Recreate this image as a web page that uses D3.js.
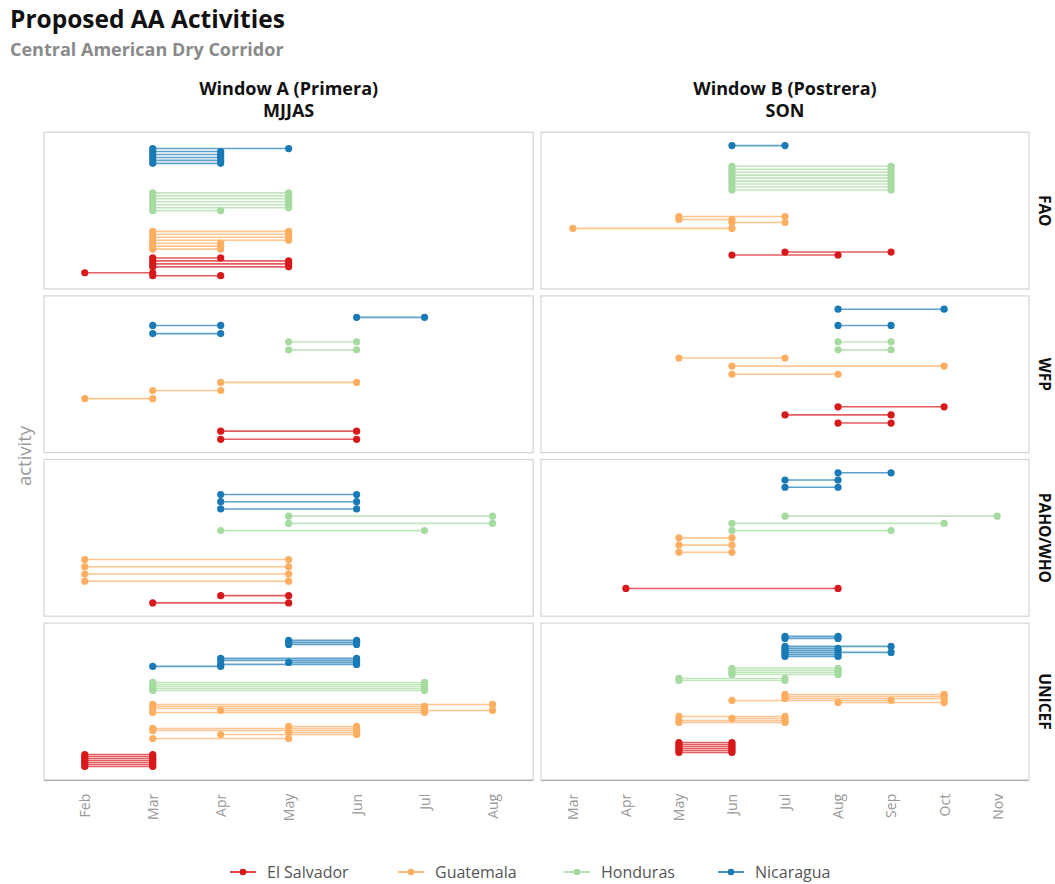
<!DOCTYPE html>
<html><head><meta charset="utf-8">
<script src="https://cdn.jsdelivr.net/npm/d3@7"></script>
<style>body{margin:0;background:#fff} text{font-family:"Open Sans", Lato, sans-serif}</style>
</head><body><svg id="chart" width="1055" height="884"></svg>
<script>
// ---------------- data ----------------
const countries = ["El Salvador", "Guatemala", "Honduras", "Nicaragua"];
const countryColors = ["#d7191c", "#fdae61", "#a6dba0", "#1a7ab5"];
const agencies = ["FAO", "WFP", "PAHO/WHO", "UNICEF"];
const windowTitles = [["Window A (Primera)", "MJJAS"], ["Window B (Postrera)", "SON"]];
const monthsA = ["Feb", "Mar", "Apr", "May", "Jun", "Jul", "Aug"];
const monthsB = ["Mar", "Apr", "May", "Jun", "Jul", "Aug", "Sep", "Oct", "Nov"];
const activitySlots = [45, 17, 19, 66];   // number of activity levels per agency

// [window, country, activity slot, start month, end month]
const faoRows = [
  ["B","Nicaragua",0,"Jun","Jul"],
  ["A","Nicaragua",1,"Mar","May"],["A","Nicaragua",2,"Mar","Apr"],["A","Nicaragua",3,"Mar","Apr"],
  ["A","Nicaragua",4,"Mar","Apr"],["A","Nicaragua",5,"Mar","Apr"],["A","Nicaragua",6,"Mar","Apr"],
  ["B","Honduras",7,"Jun","Sep"],["B","Honduras",8,"Jun","Sep"],["B","Honduras",9,"Jun","Sep"],
  ["B","Honduras",10,"Jun","Sep"],["B","Honduras",11,"Jun","Sep"],["B","Honduras",12,"Jun","Sep"],
  ["B","Honduras",13,"Jun","Sep"],["B","Honduras",14,"Jun","Sep"],["B","Honduras",15,"Jun","Sep"],
  ["A","Honduras",16,"Mar","May"],["A","Honduras",17,"Mar","May"],["A","Honduras",18,"Mar","May"],
  ["A","Honduras",19,"Mar","May"],["A","Honduras",20,"Mar","May"],["A","Honduras",21,"Mar","May"],
  ["A","Honduras",22,"Mar","Apr"],
  ["B","Guatemala",24,"May","Jul"],["B","Guatemala",25,"May","Jun"],["B","Guatemala",26,"Jun","Jul"],
  ["B","Guatemala",28,"Mar","Jun"],
  ["A","Guatemala",29,"Mar","May"],["A","Guatemala",30,"Mar","May"],["A","Guatemala",31,"Mar","May"],
  ["A","Guatemala",32,"Mar","May"],["A","Guatemala",33,"Mar","Apr"],["A","Guatemala",34,"Mar","Apr"],
  ["A","Guatemala",35,"Mar","Apr"],
  ["B","El Salvador",36,"Jul","Sep"],["B","El Salvador",37,"Jun","Aug"],
  ["A","El Salvador",38,"Mar","Apr"],["A","El Salvador",39,"Mar","May"],["A","El Salvador",40,"Mar","May"],
  ["A","El Salvador",41,"Mar","May"],["A","El Salvador",43,"Feb","Mar"],["A","El Salvador",44,"Mar","Apr"]
];
const wfpRows = [
  ["B","Nicaragua",0,"Aug","Oct"],["A","Nicaragua",1,"Jun","Jul"],["B","Nicaragua",2,"Aug","Sep"],
  ["A","Nicaragua",2,"Mar","Apr"],["A","Nicaragua",3,"Mar","Apr"],
  ["A","Honduras",4,"May","Jun"],["A","Honduras",5,"May","Jun"],
  ["B","Honduras",4,"Aug","Sep"],["B","Honduras",5,"Aug","Sep"],
  ["B","Guatemala",6,"May","Jul"],["B","Guatemala",7,"Jun","Oct"],["B","Guatemala",8,"Jun","Aug"],
  ["A","Guatemala",9,"Apr","Jun"],["A","Guatemala",10,"Mar","Apr"],["A","Guatemala",11,"Feb","Mar"],
  ["B","El Salvador",12,"Aug","Oct"],["B","El Salvador",13,"Jul","Sep"],["B","El Salvador",14,"Aug","Sep"],
  ["A","El Salvador",15,"Apr","Jun"],["A","El Salvador",16,"Apr","Jun"]
];
const pahoRows = [
  ["B","Nicaragua",0,"Aug","Sep"],["B","Nicaragua",1,"Jul","Aug"],["B","Nicaragua",2,"Jul","Aug"],
  ["A","Nicaragua",3,"Apr","Jun"],["A","Nicaragua",4,"Apr","Jun"],["A","Nicaragua",5,"Apr","Jun"],
  ["B","Honduras",6,"Jul","Nov"],["B","Honduras",7,"Jun","Oct"],["B","Honduras",8,"Jun","Sep"],
  ["A","Honduras",6,"May","Aug"],["A","Honduras",7,"May","Aug"],["A","Honduras",8,"Apr","Jul"],
  ["B","Guatemala",9,"May","Jun"],["B","Guatemala",10,"May","Jun"],["B","Guatemala",11,"May","Jun"],
  ["A","Guatemala",12,"Feb","May"],["A","Guatemala",13,"Feb","May"],["A","Guatemala",14,"Feb","May"],
  ["A","Guatemala",15,"Feb","May"],
  ["B","El Salvador",16,"Apr","Aug"],["A","El Salvador",17,"Apr","May"],["A","El Salvador",18,"Mar","May"]
];
const unicefRows = [
  ["B","Nicaragua",0,"Jul","Aug"],["B","Nicaragua",1,"Jul","Aug"],
  ["A","Nicaragua",2,"May","Jun"],["A","Nicaragua",3,"May","Jun"],["A","Nicaragua",4,"May","Jun"],
  ["B","Nicaragua",5,"Jul","Sep"],["B","Nicaragua",6,"Jul","Aug"],["B","Nicaragua",7,"Jul","Aug"],
  ["B","Nicaragua",8,"Jul","Sep"],["B","Nicaragua",9,"Jul","Aug"],["B","Nicaragua",10,"Jul","Aug"],
  ["A","Nicaragua",11,"Apr","Jun"],["A","Nicaragua",12,"Apr","Jun"],["A","Nicaragua",13,"May","Jun"],
  ["A","Nicaragua",14,"Apr","Jun"],["A","Nicaragua",15,"Mar","Apr"],
  ["B","Honduras",16,"Jun","Aug"],["B","Honduras",17,"Jun","Aug"],["B","Honduras",18,"Jun","Aug"],
  ["B","Honduras",19,"Jun","Aug"],["B","Honduras",21,"May","Jul"],["B","Honduras",22,"May","Jul"],
  ["A","Honduras",23,"Mar","Jul"],["A","Honduras",24,"Mar","Jul"],["A","Honduras",25,"Mar","Jul"],
  ["A","Honduras",26,"Mar","Jul"],["A","Honduras",27,"Mar","Jul"],
  ["B","Guatemala",29,"Jul","Oct"],["B","Guatemala",30,"Jul","Oct"],["B","Guatemala",31,"Jul","Oct"],
  ["B","Guatemala",32,"Jun","Sep"],["B","Guatemala",33,"Aug","Oct"],
  ["A","Guatemala",34,"Mar","Aug"],["A","Guatemala",35,"Mar","Jul"],["A","Guatemala",36,"Mar","Jul"],
  ["A","Guatemala",37,"Apr","Aug"],["A","Guatemala",38,"Mar","Jul"],
  ["B","Guatemala",40,"May","Jul"],["B","Guatemala",41,"Jun","Jul"],["B","Guatemala",42,"May","Jul"],
  ["B","Guatemala",43,"May","Jul"],
  ["A","Guatemala",45,"May","Jun"],["A","Guatemala",46,"Mar","Jun"],["A","Guatemala",47,"Mar","Jun"],
  ["A","Guatemala",48,"May","Jun"],["A","Guatemala",49,"Apr","Jun"],["A","Guatemala",51,"Mar","May"],
  ["B","El Salvador",53,"May","Jun"],["B","El Salvador",54,"May","Jun"],["B","El Salvador",55,"May","Jun"],
  ["B","El Salvador",56,"May","Jun"],["B","El Salvador",57,"May","Jun"],["B","El Salvador",58,"May","Jun"],
  ["A","El Salvador",59,"Feb","Mar"],["A","El Salvador",60,"Feb","Mar"],["A","El Salvador",61,"Feb","Mar"],
  ["A","El Salvador",62,"Feb","Mar"],["A","El Salvador",63,"Feb","Mar"],["A","El Salvador",64,"Feb","Mar"],
  ["A","El Salvador",65,"Feb","Mar"]
];
const agencyRows = [faoRows, wfpRows, pahoRows, unicefRows];

// ---------------- layout ----------------
const svg = d3.select("#chart");
const colX = [[44, 533.3], [541, 1029]];
const panelTop = 132.3, panelH = 156.7, panelGap = 6.9;
const innerPad = 13.3;
const color = d3.scaleOrdinal().domain(countries).range(countryColors);

svg.append("text").attr("x", 10).attr("y", 28).text("Proposed AA Activities")
  .style("font-size", "24.5px").style("font-weight", "700").attr("fill", "#111");
svg.append("text").attr("x", 10).attr("y", 56).text("Central American Dry Corridor")
  .style("font-size", "18px").style("font-weight", "700").attr("fill", "#8a8a8a");

// column strips
windowTitles.forEach((t, c) => {
  const cx = (colX[c][0] + colX[c][1]) / 2;
  const g = svg.append("text").attr("text-anchor", "middle")
    .style("font-size", "18px").style("font-weight", "700").attr("fill", "#111");
  g.append("tspan").attr("x", cx).attr("y", 95).text(t[0]);
  g.append("tspan").attr("x", cx).attr("y", 117).text(t[1]);
});

const xScales = [
  d3.scalePoint().domain(monthsA).range(colX[0]).padding(0.6),
  d3.scalePoint().domain(monthsB).range(colX[1]).padding(0.6)
];

agencies.forEach((ag, r) => {
  const y0 = panelTop + r * (panelH + panelGap), y1 = y0 + panelH;
  const y = d3.scalePoint().domain(d3.range(activitySlots[r]))
    .range([y0 + innerPad, y1 - innerPad]).padding(0);
  [0, 1].forEach(c => {
    const x = xScales[c];
    const win = c === 0 ? "A" : "B";
    const g = svg.append("g");
    g.append("rect").attr("x", colX[c][0]).attr("y", y0)
      .attr("width", colX[c][1] - colX[c][0]).attr("height", panelH)
      .attr("fill", "none").attr("stroke", "#d4d4d4").attr("stroke-width", 1.2);
    const rows = agencyRows[r].filter(d => d[0] === win);
    g.selectAll("line.seg").data(rows).join("line")
      .attr("x1", d => x(d[3])).attr("x2", d => x(d[4]))
      .attr("y1", d => y(d[2])).attr("y2", d => y(d[2]))
      .attr("stroke", d => color(d[1])).attr("stroke-width", 1.6).attr("stroke-opacity", 0.7);
    const pts = rows.flatMap(d => [[d[1], d[2], d[3]], [d[1], d[2], d[4]]]);
    g.selectAll("circle").data(pts).join("circle")
      .attr("cx", d => x(d[2])).attr("cy", d => y(d[1])).attr("r", 3.6)
      .attr("fill", d => color(d[0]));
    if (r === 3) {
      g.append("line").attr("x1", colX[c][0]).attr("x2", colX[c][1])
        .attr("y1", y1 + 0.8).attr("y2", y1 + 0.8).attr("stroke", "#a8a8a8").attr("stroke-width", 1);
      const ax = g.append("g").attr("transform", `translate(0,${y1})`)
        .call(d3.axisBottom(x).tickSize(0).tickPadding(0));
      ax.select(".domain").remove();
      ax.selectAll("text").attr("transform", "rotate(-90)")
        .attr("text-anchor", "end").attr("x", -14).attr("y", 0).attr("dy", "0.35em")
        .style("font-size", "14px").style("font-family", "'Open Sans', sans-serif").attr("fill", "#999");
    }
  });
  // row strip
  svg.append("text").attr("transform", `translate(1039,${(y0 + y1) / 2}) rotate(90)`)
    .attr("text-anchor", "middle").text(ag)
    .style("font-size", "15.5px").style("font-weight", "700").attr("fill", "#111");
});

// y axis title
svg.append("text").attr("transform", "translate(31,456) rotate(-90)").attr("text-anchor", "middle")
  .text("activity").style("font-size", "18.5px").attr("fill", "#9a9a9a");

// legend
const legX = [230, 398, 564, 718];
countries.forEach((cn, i) => {
  const g = svg.append("g").attr("transform", `translate(${legX[i]},872)`);
  g.append("line").attr("x1", 0).attr("x2", 26).attr("y1", 0).attr("y2", 0)
    .attr("stroke", color(cn)).attr("stroke-width", 1.6);
  g.append("circle").attr("cx", 13).attr("cy", 0).attr("r", 3.3).attr("fill", color(cn));
  g.append("text").attr("x", 37).attr("y", 0).attr("dy", "0.35em").text(cn)
    .style("font-size", "16px").attr("fill", "#555");
});
</script></body></html>
